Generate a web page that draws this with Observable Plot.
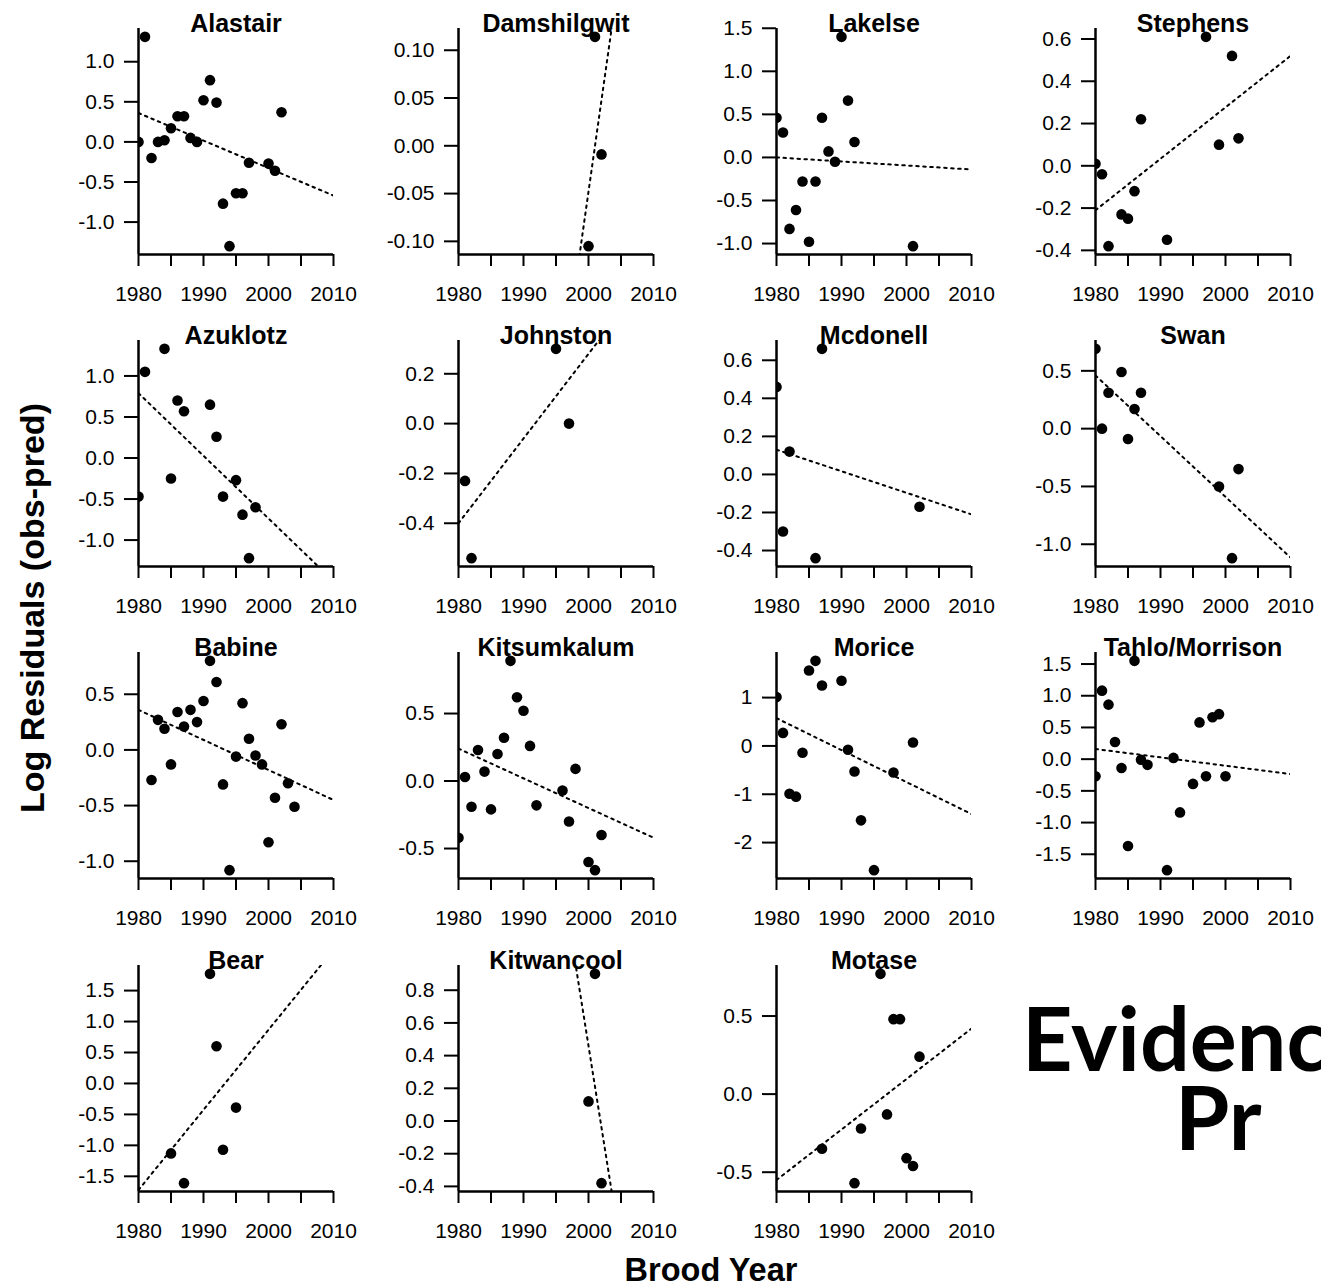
<!DOCTYPE html>
<html><head><meta charset="utf-8">
<script src="https://cdn.jsdelivr.net/npm/d3@7"></script>
<script src="https://cdn.jsdelivr.net/npm/@observablehq/plot@0.6"></script>
<style>
html,body{margin:0;padding:0;background:#fff;}
#wrap{position:relative;width:1321px;height:1286px;overflow:hidden;background:#fff;font-family:"Liberation Sans",Arial,sans-serif;}
.panel{position:absolute;}
.panel svg{overflow:visible;background:transparent;}
#ylab{position:absolute;left:32px;top:608px;transform:translate(-50%,-50%) rotate(-90deg);white-space:nowrap;font-weight:bold;font-size:34px;}
#xlab{position:absolute;left:711px;top:1270px;transform:translate(-50%,-50%);white-space:nowrap;font-weight:bold;font-size:32.5px;}
.big{position:absolute;white-space:nowrap;font-family:Lato,"Open Sans",sans-serif;font-weight:bold;font-size:88px;line-height:0.8;}
</style></head>
<body><div id="wrap">
<div id="ylab">Log Residuals (obs-pred)</div>
<div id="xlab">Brood Year</div>
<div class="big" style="left:1022px;top:1002px;">Evidence</div>
<div class="big" style="left:1175px;top:1081px;">Pr</div>
</div>
<script>
// ---- data ----
const sites = ["Alastair","Damshilgwit","Lakelse","Stephens","Azuklotz","Johnston","Mcdonell","Swan","Babine","Kitsumkalum","Morice","Tahlo/Morrison","Bear","Kitwancool","Motase"];

const alastairYears = [1980,1981,1982,1983,1984,1985,1986,1987,1988,1989,1990,1991,1992,1993,1994,1995,1996,1997,2000,2001,2002];
const alastairResid = [0.0,1.31,-0.2,0.0,0.02,0.17,0.32,0.32,0.05,0.0,0.52,0.77,0.49,-0.77,-1.3,-0.64,-0.64,-0.26,-0.27,-0.36,0.37];
const alastairFit = [0.36,-0.67];
const alastairTicks = [-1,-0.5,0,0.5,1];

const damshilgwitYears = [2000,2001,2002];
const damshilgwitResid = [-0.105,0.114,-0.009];
const damshilgwitFit = [-1.008,0.432];
const damshilgwitTicks = [-0.1,-0.05,0,0.05,0.1];

const lakelseYears = [1980,1981,1982,1983,1984,1985,1986,1987,1988,1989,1990,1991,1992,2001];
const lakelseResid = [0.46,0.29,-0.83,-0.61,-0.28,-0.98,-0.28,0.46,0.07,-0.05,1.40,0.66,0.18,-1.03];
const lakelseFit = [0.0,-0.14];
const lakelseTicks = [-1,-0.5,0,0.5,1,1.5];

const stephensYears = [1980,1981,1982,1984,1985,1986,1987,1991,1997,1999,2001,2002];
const stephensResid = [0.01,-0.04,-0.38,-0.23,-0.25,-0.12,0.22,-0.35,0.61,0.10,0.52,0.13];
const stephensFit = [-0.21,0.52];
const stephensTicks = [-0.4,-0.2,0,0.2,0.4,0.6];

const azuklotzYears = [1980,1981,1984,1985,1986,1987,1991,1992,1993,1995,1996,1997,1998];
const azuklotzResid = [-0.47,1.05,1.33,-0.25,0.70,0.57,0.65,0.26,-0.47,-0.27,-0.69,-1.22,-0.60];
const azuklotzFit = [0.79,-1.50];
const azuklotzTicks = [-1,-0.5,0,0.5,1];

const johnstonYears = [1981,1982,1995,1997];
const johnstonResid = [-0.23,-0.54,0.30,0.0];
const johnstonFit = [-0.40,0.62];
const johnstonTicks = [-0.4,-0.2,0,0.2];

const mcdonellYears = [1980,1981,1982,1986,1987,2002];
const mcdonellResid = [0.46,-0.30,0.12,-0.44,0.66,-0.17];
const mcdonellFit = [0.13,-0.21];
const mcdonellTicks = [-0.4,-0.2,0,0.2,0.4,0.6];

const swanYears = [1980,1981,1982,1984,1985,1986,1987,1999,2001,2002];
const swanResid = [0.69,0.0,0.31,0.49,-0.09,0.17,0.31,-0.50,-1.12,-0.35];
const swanFit = [0.46,-1.115];
const swanTicks = [-1,-0.5,0,0.5];

const babineYears = [1982,1983,1984,1985,1986,1987,1988,1989,1990,1991,1992,1993,1994,1995,1996,1997,1998,1999,2000,2001,2002,2003,2004];
const babineResid = [-0.27,0.27,0.19,-0.13,0.34,0.21,0.36,0.25,0.44,0.80,0.61,-0.31,-1.08,-0.06,0.42,0.10,-0.05,-0.13,-0.83,-0.43,0.23,-0.30,-0.51];
const babineFit = [0.36,-0.45];
const babineTicks = [-1,-0.5,0,0.5];

const kitsumkalumYears = [1980,1981,1982,1983,1984,1985,1986,1987,1988,1989,1990,1991,1992,1996,1997,1998,2000,2001,2002];
const kitsumkalumResid = [-0.42,0.03,-0.19,0.23,0.07,-0.21,0.20,0.32,0.89,0.62,0.52,0.26,-0.18,-0.07,-0.30,0.09,-0.60,-0.66,-0.40];
const kitsumkalumFit = [0.24,-0.42];
const kitsumkalumTicks = [-0.5,0,0.5];

const moriceYears = [1980,1981,1982,1983,1984,1985,1986,1987,1990,1991,1992,1993,1995,1998,2001];
const moriceResid = [1.01,0.27,-0.99,-1.05,-0.14,1.56,1.76,1.25,1.35,-0.08,-0.53,-1.54,-2.57,-0.55,0.07];
const moriceFit = [0.575,-1.41];
const moriceTicks = [-2,-1,0,1];

const tahloYears = [1980,1981,1982,1983,1984,1985,1986,1987,1988,1991,1992,1993,1995,1996,1997,1998,1999,2000];
const tahloResid = [-0.27,1.08,0.86,0.27,-0.14,-1.37,1.55,-0.01,-0.09,-1.75,0.02,-0.84,-0.39,0.58,-0.27,0.66,0.71,-0.27];
const tahloFit = [0.16,-0.235];
const tahloTicks = [-1.5,-1,-0.5,0,0.5,1,1.5];

const bearYears = [1985,1987,1991,1992,1993,1995];
const bearResid = [-1.13,-1.61,1.77,0.60,-1.07,-0.39];
const bearFit = [-1.72,2.16];
const bearTicks = [-1.5,-1,-0.5,0,0.5,1,1.5];

const kitwancoolYears = [2000,2001,2002];
const kitwancoolResid = [0.12,0.90,-0.38];
const kitwancoolFit = [5.46,-2.04];
const kitwancoolTicks = [-0.4,-0.2,0,0.2,0.4,0.6,0.8];

const motaseYears = [1987,1992,1993,1996,1997,1998,1999,2000,2001,2002];
const motaseResid = [-0.35,-0.57,-0.22,0.77,-0.13,0.48,0.48,-0.41,-0.46,0.24];
const motaseFit = [-0.55,0.42];
const motaseTicks = [-0.5,0,0.5];

const tickDecimals = [1,2,1,1, 1,1,1,1, 1,1,0,1, 1,1,1];
const xTicks = [1980,1985,1990,1995,2000,2005,2010];
const xLabels = [1980,1990,2000,2010];
const fitYears = [1980,2010];

const series = [
  [alastairYears,alastairResid,alastairFit,alastairTicks],
  [damshilgwitYears,damshilgwitResid,damshilgwitFit,damshilgwitTicks],
  [lakelseYears,lakelseResid,lakelseFit,lakelseTicks],
  [stephensYears,stephensResid,stephensFit,stephensTicks],
  [azuklotzYears,azuklotzResid,azuklotzFit,azuklotzTicks],
  [johnstonYears,johnstonResid,johnstonFit,johnstonTicks],
  [mcdonellYears,mcdonellResid,mcdonellFit,mcdonellTicks],
  [swanYears,swanResid,swanFit,swanTicks],
  [babineYears,babineResid,babineFit,babineTicks],
  [kitsumkalumYears,kitsumkalumResid,kitsumkalumFit,kitsumkalumTicks],
  [moriceYears,moriceResid,moriceFit,moriceTicks],
  [tahloYears,tahloResid,tahloFit,tahloTicks],
  [bearYears,bearResid,bearFit,bearTicks],
  [kitwancoolYears,kitwancoolResid,kitwancoolFit,kitwancoolTicks],
  [motaseYears,motaseResid,motaseFit,motaseTicks]
];

// ---- layout ----
const axisLeft = [137.5, 457.5, 775.5, 1095];
const rowTop = [28, 340, 652, 965];
const PW = 195, PH = 226, ML = 110, MT = 45, MR = 25, MB = 62;
const FONT = '"Liberation Sans", Arial, sans-serif';

const wrap = document.getElementById("wrap");
sites.forEach((name, i) => {
  const [years, resid, fit, ticks] = series[i];
  const dec = tickDecimals[i];
  const pts = years.map((x, j) => ({x, y: resid[j]}));
  const fitPts = fitYears.map((x, j) => ({x, y: fit[j]}));
  const [lo, hi] = d3.extent(resid);
  const pad = (hi - lo) * 0.04;
  const yDom = [lo - pad, hi + pad];
  const chart = Plot.plot({
    width: ML + PW + MR, height: MT + PH + MB,
    marginLeft: ML, marginTop: MT, marginRight: MR, marginBottom: MB,
    style: {fontFamily: FONT, fontSize: "21px", color: "black", background: "transparent", overflow: "visible"},
    x: {domain: [1980, 2010]},
    y: {domain: yDom},
    marks: [
      Plot.text([name], {frameAnchor: "top", lineAnchor: "bottom", dy: 3, fontWeight: "bold", fontSize: 25, fill: "black"}),
      Plot.axisX({ticks: xTicks, tickSize: 12, tickPadding: 20, strokeWidth: 2,
        tickFormat: d => xLabels.includes(d) ? String(d) : null, fontSize: 21, label: null}),
      Plot.axisY({ticks: ticks, tickSize: 14, tickPadding: 10, strokeWidth: 2,
        tickFormat: d => d.toFixed(dec), fontSize: 21, label: null}),
      Plot.ruleX([1980], {stroke: "black", strokeWidth: 2.5}),
      Plot.ruleY([yDom[0]], {stroke: "black", strokeWidth: 2.5}),
      Plot.line(fitPts, {x: "x", y: "y", stroke: "black", strokeWidth: 2, strokeDasharray: "2.5,4.5", clip: true}),
      Plot.dot(pts, {x: "x", y: "y", r: 5.3, fill: "black", stroke: "none", clip: true})
    ]
  });
  const col = i % 4, row = Math.floor(i / 4);
  const div = document.createElement("div");
  div.className = "panel";
  div.style.left = (axisLeft[col] - ML) + "px";
  div.style.top = (rowTop[row] - MT) + "px";
  div.appendChild(chart);
  wrap.appendChild(div);
});
</script>
</body></html>
